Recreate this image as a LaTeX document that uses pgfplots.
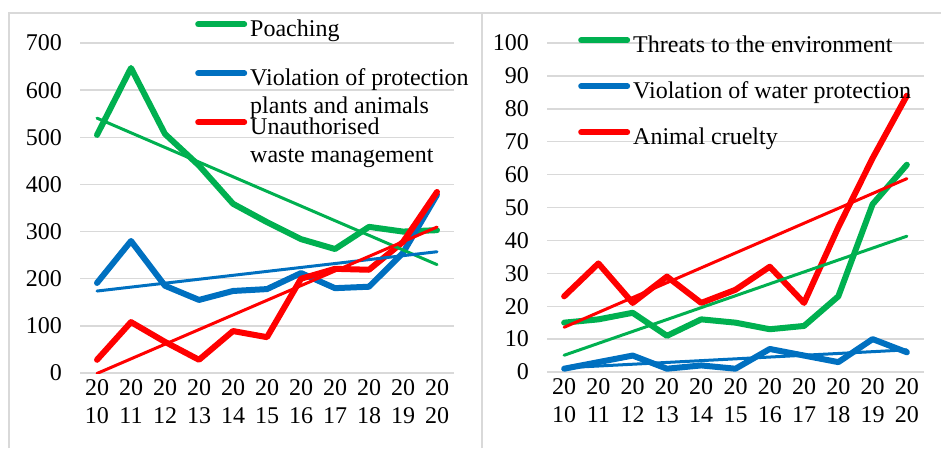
\documentclass[border=0pt]{standalone}
\usepackage{fontspec}
\setmainfont{Liberation Serif}
\usepackage{pgfplots}
\usepackage{pgfplotstable}
\pgfplotsset{compat=1.18}
\definecolor{cg}{HTML}{00B050}
\definecolor{cb}{HTML}{0070C0}
\definecolor{cr}{HTML}{FF0000}
\definecolor{grd}{HTML}{D9D9D9}
\newcommand\bigf{\fontsize{24}{28}\selectfont}
\newcommand\two[2]{\raisebox{0pt}[\height][0pt]{\begin{tabular}[t]{@{}l@{}}#1\\#2\end{tabular}}}

\pgfplotstableread{
x p v w
0 505 191 28
1 647 280 108
2 507 185 66
3 440 155 28
4 359 174 89
5 320 178 76
6 284 212 200
7 263 180 221
8 310 183 219
9 300 255 278
10 303 378 384
}\leftdata

\pgfplotstableread{
x t v c
0 15 1 23
1 16 3 33
2 18 5 21
3 11 1 29
4 16 2 21
5 15 1 25
6 13 7 32
7 14 5 21
8 23 3 44
9 51 10 65
10 63 6 84
}\rightdata

\pgfplotsset{
 panel/.style={
  scale only axis, xmin=-0.5, xmax=10.5, ymin=0,
  axis line style={draw=none}, major tick length=0pt,
  ymajorgrids, grid style={grd, line width=1.4pt},
  xtick={0,...,10},
  xticklabels={{20\\10},{20\\11},{20\\12},{20\\13},{20\\14},{20\\15},{20\\16},{20\\17},{20\\18},{20\\19},{20\\20}},
  xticklabel style={font=\bigf, align=center, inner sep=0pt, yshift=-6pt},
  yticklabel style={font=\bigf, inner sep=0pt, xshift=-18pt, /pgf/number format/assume math mode=true},
  legend style={draw=none, fill=none, font=\bigf, anchor=north west, inner sep=0pt,
    row sep=27pt, column sep=3pt, cells={anchor=base west},
    nodes={inner sep=0pt, text height=17pt, text depth=5pt}},
  legend cell align=left,
  legend image code/.code={\draw[##1, line cap=round] (3pt,6pt) -- (49pt,6pt);},
 },
 data/.style={line width=6pt, line join=round, line cap=round},
 trend/.style={line width=3pt, line cap=round},
}

\begin{document}
\begin{tikzpicture}
\path[use as bounding box] (0,0) rectangle (941pt,448pt);
\draw[grd, line width=1.4pt] (9pt,0) -- (9pt,435pt) -- (941pt,435pt);
\draw[grd, line width=1.4pt] (482pt,0) -- (482pt,435pt);

\begin{axis}[panel, at={(80pt,75pt)}, anchor=south west, width=374pt, height=330pt,
  ymax=700, ytick={0,100,...,700},
  legend style={at={(0.3075,1.0727)}}]
\addplot[cg, data] table[x=x, y=p] {\leftdata};
\addlegendentry{Poaching}
\addplot[cb, data] table[x=x, y=v] {\leftdata};
\addlegendentry{\two{Violation of protection}{plants and animals}}
\addplot[cr, data] table[x=x, y=w] {\leftdata};
\addlegendentry{\two{Unauthorised}{waste management}}
\addplot[cg, trend, forget plot] table[x=x, y={create col/linear regression={y=p}}] {\leftdata};
\addplot[cb, trend, forget plot] table[x=x, y={create col/linear regression={y=v}}] {\leftdata};
\addplot[cr, trend, forget plot] table[x=x, y={create col/linear regression={y=w}}] {\leftdata};
\end{axis}

\begin{axis}[panel, at={(547pt,76pt)}, anchor=south west, width=377pt, height=329pt,
  ymax=100, ytick={0,10,...,100},
  legend style={at={(0.0822,1.0243)}, row sep=24pt}]
\addplot[cg, data] table[x=x, y=t] {\rightdata};
\addlegendentry{Threats to the environment}
\addplot[cb, data] table[x=x, y=v] {\rightdata};
\addlegendentry{Violation of water protection}
\addplot[cr, data] table[x=x, y=c] {\rightdata};
\addlegendentry{Animal cruelty}
\addplot[cg, trend, forget plot] table[x=x, y={create col/linear regression={y=t}}] {\rightdata};
\addplot[cb, trend, forget plot] table[x=x, y={create col/linear regression={y=v}}] {\rightdata};
\addplot[cr, trend, forget plot] table[x=x, y={create col/linear regression={y=c}}] {\rightdata};
\end{axis}
\end{tikzpicture}
\end{document}
